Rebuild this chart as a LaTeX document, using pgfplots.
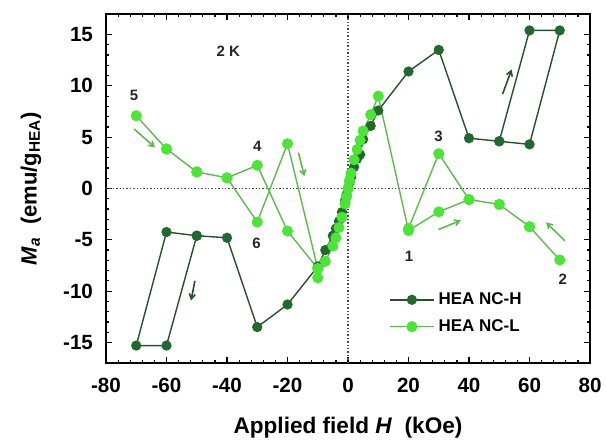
\documentclass[border=0pt]{standalone}
\usepackage{pgfplots}
\pgfplotsset{compat=1.18}
\usepackage{fontspec}
\setmainfont{Liberation Sans}
\usetikzlibrary{arrows.meta}
\definecolor{dg}{RGB}{35,105,45}
\definecolor{dgl}{RGB}{40,80,45}
\definecolor{lg}{RGB}{75,228,55}
\definecolor{lgl}{RGB}{95,185,80}
\begin{document}
\begin{tikzpicture}
\begin{axis}[
 scale only axis, width=242pt, height=174.5pt,
 xmin=-80, xmax=80, ymin=-17, ymax=17,
 xtick={-80,-60,...,80}, ytick={-15,-10,...,15},
 minor x tick num=4, minor y tick num=4,
 tick align=inside, major tick length=3pt, minor tick length=1.7pt,
 axis line style={line width=1.1pt},
 every tick/.style={black, line width=0.6pt},
 /pgf/number format/assume math mode=true,
 ticklabel style={font=\bfseries\fontsize{10.3}{12}\selectfont},
 xticklabel style={anchor=center, yshift=-11pt},
 yticklabel style={xshift=-3pt},
 xlabel={Applied field \textit{H}\ \ (kOe)},
 ylabel={\textit{M}\textsubscript{\textit{a}}\ \ (emu/g\textsubscript{HEA})},
 xlabel style={font=\bfseries\fontsize{11.3}{13}\selectfont, at={([yshift=-32.5pt]rel axis cs:0.5,0)}, anchor=center},
 ylabel style={font=\bfseries\fontsize{11}{13}\selectfont, at={([xshift=-37.5pt]rel axis cs:0,0.5)}, anchor=center},
 clip=false,
 legend style={at={(axis cs:11.5,-9.3)}, anchor=north west, draw=none, fill=none,
   font=\bfseries\fontsize{8.5}{10}\selectfont, row sep=2pt},
 legend cell align=left,
 legend image code/.code={\draw[mark repeat=2,mark phase=2,#1] plot coordinates {(0pt,0pt) (11pt,0pt) (22pt,0pt)};},
]
\coordinate (sw) at (rel axis cs:0,0);
\coordinate (ne) at (rel axis cs:1,1);
\draw[densely dotted, black!70, line width=0.7pt] (axis cs:0,-17) -- (axis cs:0,17);
\draw[densely dotted, black!70, line width=0.7pt] (axis cs:-80,0) -- (axis cs:80,0);

\addplot[dgl, line width=0.7pt, mark=*, mark size=2.2pt, mark options={draw=dg, fill=dg}] coordinates {
(50,4.6)(60,4.3)(70,15.4)(60,15.4)(50,4.6)(40,4.9)(30,13.5)(20,11.4)(10,7.6)(7.5,6.1)(5,4.8)(4,3.3)(3,2.9)(2,2.1)(1,1.1)(0.5,0.6)(0,0)(-0.5,-0.6)(-1,-1.2)(-2,-2.3)(-3,-3.2)(-4,-3.9)(-5,-4.6)(-7.5,-6.0)(-10,-7.6)(-20,-11.3)(-30,-13.5)(-40,-4.8)(-50,-4.6)(-60,-15.3)(-70,-15.3)(-60,-4.24)(-50,-4.6)
};
\addlegendentry{HEA NC-H}

\addplot[lgl, line width=0.7pt, mark=*, mark size=2.4pt, mark options={draw=lg, fill=lg}] coordinates {
(0,0)(0.5,0.8)(1,1.5)(2,2.8)(3,3.8)(4,4.7)(5,5.6)(7.5,7.2)(10,9.0)(20,-4.1)(30,-2.27)(40,-1.07)(50,-1.55)(60,-3.72)(70,-6.96)(60,-3.72)(50,-1.55)(40,-1.07)(30,3.4)(20,-3.9)
};
\addlegendentry{HEA NC-L}

\addplot[lgl, line width=0.7pt, mark=*, mark size=2.4pt, mark options={draw=lg, fill=lg}, forget plot] coordinates {
(0,0)(-0.5,-0.8)(-1,-1.5)(-2,-2.8)(-3,-3.8)(-4,-4.8)(-5,-5.6)(-7.5,-7.1)(-10,-8.7)(-10,-7.8)(-20,-4.14)(-30,2.26)(-40,1.04)(-50,1.62)(-60,3.85)(-70,7.09)(-60,3.85)(-50,1.62)(-40,1.04)(-30,-3.27)(-20,4.37)(-10,-7.8)
};

% direction arrows
\draw[-{Straight Barb[length=2.5pt,width=3pt]}, lgl, line width=0.8pt] (axis cs:-70.7,5.8) -- (axis cs:-63.8,4.0);
\draw[-{Straight Barb[length=2.5pt,width=3pt]}, lgl, line width=0.8pt] (axis cs:-16.4,3.5) -- (axis cs:-14.4,1.2);
\draw[-{Straight Barb[length=2.5pt,width=3pt]}, dgl, line width=0.8pt] (axis cs:-50.6,-9.0) -- (axis cs:-51.9,-10.9);
\draw[-{Straight Barb[length=2.5pt,width=3pt]}, dgl, line width=0.8pt] (axis cs:51.1,9.2) -- (axis cs:54.1,11.6);
\draw[-{Straight Barb[length=2.5pt,width=3pt]}, lgl, line width=0.8pt] (axis cs:29.9,-4.0) -- (axis cs:37.3,-3.1);
\draw[-{Straight Barb[length=2.5pt,width=3pt]}, lgl, line width=0.8pt] (axis cs:71.7,-5.1) -- (axis cs:65.5,-3.3);

% labels
\begin{scope}[every node/.style={font=\bfseries\fontsize{7.5}{9}\selectfont, text=black!85}]
\node at (axis cs:-70.7,9.1) {5};
\node at (axis cs:-30,4.1) {4};
\node at (axis cs:-30.2,-5.3) {6};
\node at (axis cs:29.9,5.1) {3};
\node at (axis cs:20.2,-6.6) {1};
\node at (axis cs:71,-8.8) {2};
\node at (axis cs:-39.6,13.4) {2 K};
\end{scope}
\end{axis}
\pgfresetboundingbox
\path ([shift={(-53pt,-41pt)}]sw) rectangle ([shift={(8pt,7pt)}]ne);
\end{tikzpicture}
\end{document}
